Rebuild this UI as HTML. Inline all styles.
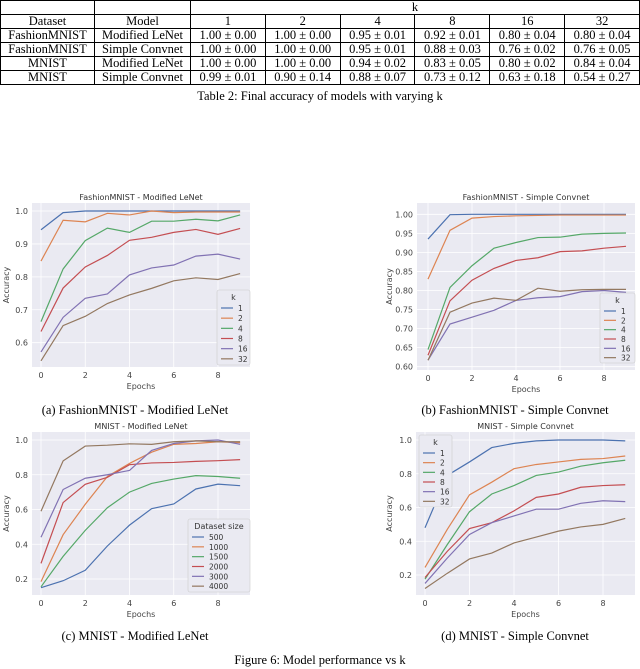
<!DOCTYPE html>
<html><head><meta charset="utf-8">
<style>
body{margin:0;width:640px;height:669px;background:#fff;position:relative;overflow:hidden;font-family:"Liberation Serif",serif;}
table{position:absolute;left:0;top:0;width:640px;border-collapse:collapse;font-size:12.5px;}
td{border:1px solid #000;text-align:center;padding:0;height:13px;line-height:13px;}
.cap{position:absolute;font-family:"Liberation Serif",serif;font-size:12.5px;white-space:nowrap;transform:translateX(-50%);}
svg{position:absolute;left:0;top:0;}
</style></head><body>
<table>
<tr><td style="width:93px"></td><td style="width:95px"></td><td colspan="6">k</td></tr>
<tr><td>Dataset</td><td>Model</td><td>1</td><td>2</td><td>4</td><td>8</td><td>16</td><td>32</td></tr>
<tr><td>FashionMNIST</td><td>Modified LeNet</td><td>1.00 ± 0.00</td><td>1.00 ± 0.00</td><td>0.95 ± 0.01</td><td>0.92 ± 0.01</td><td>0.80 ± 0.04</td><td>0.80 ± 0.04</td></tr>
<tr><td>FashionMNIST</td><td>Simple Convnet</td><td>1.00 ± 0.00</td><td>1.00 ± 0.00</td><td>0.95 ± 0.01</td><td>0.88 ± 0.03</td><td>0.76 ± 0.02</td><td>0.76 ± 0.05</td></tr>
<tr><td>MNIST</td><td>Modified LeNet</td><td>1.00 ± 0.00</td><td>1.00 ± 0.00</td><td>0.94 ± 0.02</td><td>0.83 ± 0.05</td><td>0.80 ± 0.02</td><td>0.84 ± 0.04</td></tr>
<tr><td>MNIST</td><td>Simple Convnet</td><td>0.99 ± 0.01</td><td>0.90 ± 0.14</td><td>0.88 ± 0.07</td><td>0.73 ± 0.12</td><td>0.63 ± 0.18</td><td>0.54 ± 0.27</td></tr>
</table>
<div class="cap" style="left:320px;top:89px">Table 2: Final accuracy of models with varying k</div>
<div class="cap" style="left:135px;top:403px">(a) FashionMNIST - Modified LeNet</div>
<div class="cap" style="left:515px;top:403px">(b) FashionMNIST - Simple Convnet</div>
<div class="cap" style="left:135px;top:629px">(c) MNIST - Modified LeNet</div>
<div class="cap" style="left:515px;top:629px">(d) MNIST - Simple Convnet</div>
<div class="cap" style="left:320px;top:653px">Figure 6: Model performance vs k</div>
<svg id="s" width="640" height="669"></svg>
<script>
const epochs=[0,1,2,3,4,5,6,7,8,9];
const xTicks=[0,2,4,6,8];
const colors=["#4C72B0","#DD8452","#55A868","#C44E52","#8172B3","#937860"];
const kLabels=["1","2","4","8","16","32"];
const sizeLabels=["500","1000","1500","2000","3000","4000"];
const aSeries=[
[.943,.995,1,1,1,1,1,1,1,1],
[.848,.972,.967,.993,.988,1.0,.995,.997,.997,.997],
[.664,.824,.910,.948,.935,.969,.969,.975,.970,.988],
[.634,.766,.830,.865,.911,.920,.935,.944,.929,.947],
[.572,.677,.735,.748,.806,.827,.836,.863,.869,.854],
[.545,.652,.680,.719,.745,.765,.788,.797,.792,.810]];
const bSeries=[
[.935,.999,1,1,1,1,1,1,1,1],
[.830,.958,.990,.994,.996,.997,.998,.998,.998,.998],
[.645,.808,.865,.911,.926,.939,.940,.948,.950,.951],
[.630,.773,.827,.858,.879,.886,.902,.904,.911,.916],
[.617,.712,.730,.748,.774,.781,.784,.797,.800,.795],
[.617,.743,.767,.780,.774,.806,.798,.802,.803,.803]];
const cSeries=[
[.15,.19,.25,.39,.51,.605,.632,.718,.746,.737],
[.185,.455,.63,.79,.865,.93,.975,.98,.99,.985],
[.155,.33,.48,.61,.70,.75,.775,.795,.79,.78],
[.29,.64,.745,.785,.858,.868,.871,.877,.881,.887],
[.44,.715,.78,.80,.825,.94,.98,.995,1.0,.975],
[.59,.88,.965,.97,.978,.975,.99,.995,.99,.99]];
const dSeries=[
[.48,.79,.87,.955,.98,.995,1.0,1.0,1.0,.995],
[.245,.47,.675,.75,.83,.855,.87,.885,.89,.905],
[.175,.38,.575,.68,.73,.79,.81,.845,.865,.88],
[.185,.34,.475,.51,.58,.66,.68,.72,.73,.735],
[.15,.30,.44,.51,.55,.59,.59,.625,.64,.635],
[.12,.21,.295,.33,.39,.425,.46,.485,.50,.535]];
const aTicks=[0.6,0.7,0.8,0.9,1.0];
const bTicks=[0.60,0.65,0.70,0.75,0.80,0.85,0.90,0.95,1.00];
const cTicks=[0.2,0.4,0.6,0.8,1.0];
const dTicks=[0.2,0.4,0.6,0.8,1.0];
const NS="http://www.w3.org/2000/svg";
const svg=document.getElementById('s');
function mk(t,a,p){const e=document.createElementNS(NS,t);for(const k in a)e.setAttribute(k,a[k]);(p||svg).appendChild(e);return e;}
function chart(c){
  const g=mk('g',{});
  
  
  const xs=v=>c.x0+(v)*(c.x8-c.x0)/8;
  const ys=v=>c.yA+(v-c.vA)*(c.yB-c.yA)/(c.vB-c.vA);
  const bg=mk('rect',{x:c.L,y:c.T,width:c.R-c.L,height:c.B-c.T,fill:'#EAEAF2'},g);
  
  
  xTicks.forEach(t=>{const X=xs(t);mk('line',{x1:X,x2:X,y1:c.T,y2:c.B,stroke:'#fff','stroke-width':0.8},g);
    const tx=mk('text',{x:X,y:c.B+11,'font-size':8,fill:'#444','text-anchor':'middle','font-family':'DejaVu Sans, sans-serif'},g);tx.textContent=t;
    
    });
  c.ticks.forEach(t=>{const Y=ys(t);mk('line',{x1:c.L,x2:c.R,y1:Y,y2:Y,stroke:'#fff','stroke-width':0.8},g);
    const tx=mk('text',{x:c.L-4,y:Y+3,'font-size':8,fill:'#444','text-anchor':'end','font-family':'DejaVu Sans, sans-serif'},g);tx.textContent=t.toFixed(c.dec);
    
    });
  c.series.forEach((s,i)=>{const pl=mk('polyline',{points:s.map((v,j)=>xs(epochs[j])+','+ys(v)).join(' '),fill:'none',stroke:colors[i],'stroke-width':1.2},g);
    
    });
  const ti=mk('text',{x:(c.L+c.R)/2,y:c.T-3,'font-size':8,fill:'#333','text-anchor':'middle','font-family':'DejaVu Sans, sans-serif'},g);ti.textContent=c.title;
  
  
  const xl=mk('text',{x:(c.L+c.R)/2,y:c.B+22,'font-size':8,fill:'#444','text-anchor':'middle','font-family':'DejaVu Sans, sans-serif'},g);xl.textContent='Epochs';
  
  
  const ym=(c.T+c.B)/2;
  const yl=mk('text',{x:c.ylx,y:ym,'font-size':8,fill:'#444','text-anchor':'middle','font-family':'DejaVu Sans, sans-serif',transform:'rotate(-90 '+c.ylx+' '+ym+')'},g);yl.textContent='Accuracy';
  
  
  const lg=mk('g',{},g);
  
  
  mk('rect',{x:c.lx,y:c.ly,width:c.lw,height:c.lh,fill:'#EAEAF2',stroke:'#ccc','stroke-width':0.6,rx:2},lg);
  const lt=mk('text',{x:c.lx+c.lw/2,y:c.ly+10,'font-size':8,fill:'#333','text-anchor':'middle','font-family':'DejaVu Sans, sans-serif'},lg);lt.textContent=c.ltitle;
  const step=(c.lh-14)/6;
  c.labels.forEach((l,i)=>{const yy=c.ly+16+step*i+2;
    const e=mk('g',{},lg);
    
    
    mk('line',{x1:c.lx+4,x2:c.lx+16,y1:yy,y2:yy,stroke:colors[i],'stroke-width':1.2},e);
    const t=mk('text',{x:c.lx+21,y:yy+3,'font-size':7.5,fill:'#333','font-family':'DejaVu Sans, sans-serif'},e);t.textContent=l;});
}
chart({name:'chart-fashion-lenet',title:'FashionMNIST - Modified LeNet',series:aSeries,labels:kLabels,ltitle:'k',ticks:aTicks,dec:1,
 L:32,R:250,T:203,B:367,x0:41,x8:218,vA:1.0,yA:211,vB:0.6,yB:342.7,ylx:9,lx:217,ly:290,lw:33,lh:75});
chart({name:'chart-fashion-convnet',title:'FashionMNIST - Simple Convnet',series:bSeries,labels:kLabels,ltitle:'k',ticks:bTicks,dec:2,
 L:417,R:635,T:203,B:370,x0:428,x8:604,vA:1.0,yA:214.3,vB:0.6,yB:366.7,ylx:392,lx:600,ly:293,lw:35,lh:70});
chart({name:'chart-mnist-lenet',title:'MNIST - Modified LeNet',series:cSeries,labels:sizeLabels,ltitle:'Dataset size',ticks:cTicks,dec:1,
 L:32,R:250,T:432,B:595,x0:41,x8:218,vA:1.0,yA:440,vB:0.2,yB:579,ylx:9,lx:188,ly:519,lw:62,lh:73});
chart({name:'chart-mnist-convnet',title:'MNIST - Simple Convnet',series:dSeries,labels:kLabels,ltitle:'k',ticks:dTicks,dec:1,
 L:416,R:635,T:432,B:595,x0:425,x8:603,vA:1.0,yA:440,vB:0.2,yB:575,ylx:392,lx:419,ly:435,lw:33,lh:72});
</script>
</body></html>
